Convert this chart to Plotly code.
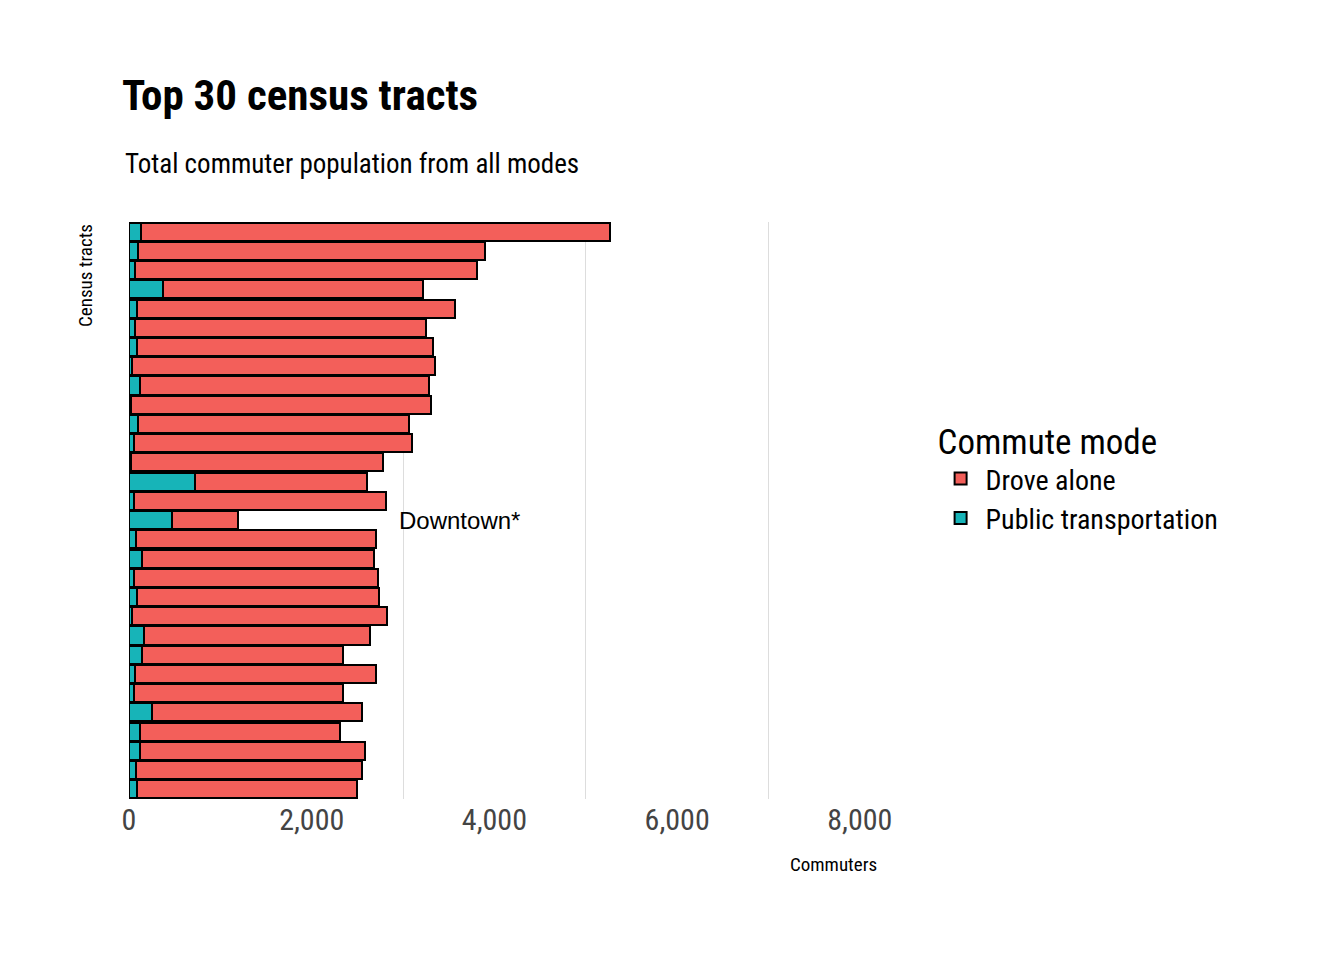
import plotly.graph_objects as go

# census tracts, top to bottom (labels hidden in the chart)
tracts = ["Tract %02d" % i for i in range(1, 31)]
transit = [131, 99, 66, 372, 88, 66, 88, 33, 120, 22, 99, 55, 22, 723, 55,
           471, 77, 142, 55, 88, 33, 164, 142, 66, 55, 252, 120, 120, 77, 88]
total = [5267, 3898, 3811, 3219, 3570, 3252, 3329, 3351, 3285, 3307, 3066, 3099,
         2781, 2606, 2814, 1194, 2705, 2683, 2727, 2738, 2825, 2639, 2343, 2705,
         2343, 2551, 2310, 2584, 2551, 2497]
drove = [t - p for t, p in zip(total, transit)]

font = "Liberation Sans Narrow, Roboto Condensed, Arial Narrow, sans-serif"
red = "#F35F5A"
teal = "#17B4B8"

fig = go.Figure()
fig.add_trace(go.Bar(y=tracts, x=transit, orientation="h", name="Public transportation",
                     marker=dict(color=teal, line=dict(color="black", width=2)),
                     legendrank=2))
fig.add_trace(go.Bar(y=tracts, x=drove, orientation="h", name="Drove alone",
                     marker=dict(color=red, line=dict(color="black", width=2)),
                     legendrank=1))

fig.add_annotation(x=2930, y=tracts[15], text="Downtown*", showarrow=False,
                   xanchor="left", font=dict(size=24, color="black", family="Liberation Sans, Arial, sans-serif"))
fig.add_annotation(xref="paper", yref="paper", x=1.013, y=-0.09, text="Commuters",
                   showarrow=False, xanchor="right", yanchor="top",
                   font=dict(size=19, color="black", family=font))
fig.add_annotation(xref="paper", yref="paper", x=0, xshift=-30, y=1, text="Census tracts",
                   showarrow=False, textangle=-90, xanchor="right", yanchor="top",
                   font=dict(size=19, color="black", family=font))
fig.add_annotation(xref="paper", yref="paper", x=-0.008, y=1.07, text="Total commuter population from all modes",
                   showarrow=False, xanchor="left", yanchor="bottom",
                   font=dict(size=27, color="black", family=font))

fig.update_layout(
    width=1344, height=960,
    barmode="stack", bargap=0.06,
    plot_bgcolor="white", paper_bgcolor="white",
    margin=dict(l=121, r=483, t=214, b=169),
    font=dict(family=font, color="black"),
    title=dict(
        text="<b>Top 30 census tracts</b>",
        x=114 / 1344, xanchor="left", y=1 - 72 / 960, yanchor="top",
        font=dict(size=43, family=font, color="black")),
    xaxis=dict(range=[0, 8100], showgrid=False, zeroline=False, showline=False,
               tickvals=[0, 2000, 4000, 6000, 8000], tickformat=",",
               ticks="", tickfont=dict(size=30, color="#444444", family=font),
               minor=dict(showgrid=True, tick0=1000, dtick=2000, gridcolor="#DDDDDD",
                          gridwidth=1, ticks="")),
    yaxis=dict(showticklabels=False, showgrid=False, zeroline=False, ticks="",
               categoryorder="array", categoryarray=tracts[::-1]),
    legend=dict(x=1.09, y=0.56, yanchor="middle", xanchor="left",
                title=dict(text="Commute mode", font=dict(size=35, family=font)),
                font=dict(size=28, family=font), traceorder="normal",
                itemsizing="constant", itemwidth=40, tracegroupgap=8),
)

fig.write_html("out.html")
